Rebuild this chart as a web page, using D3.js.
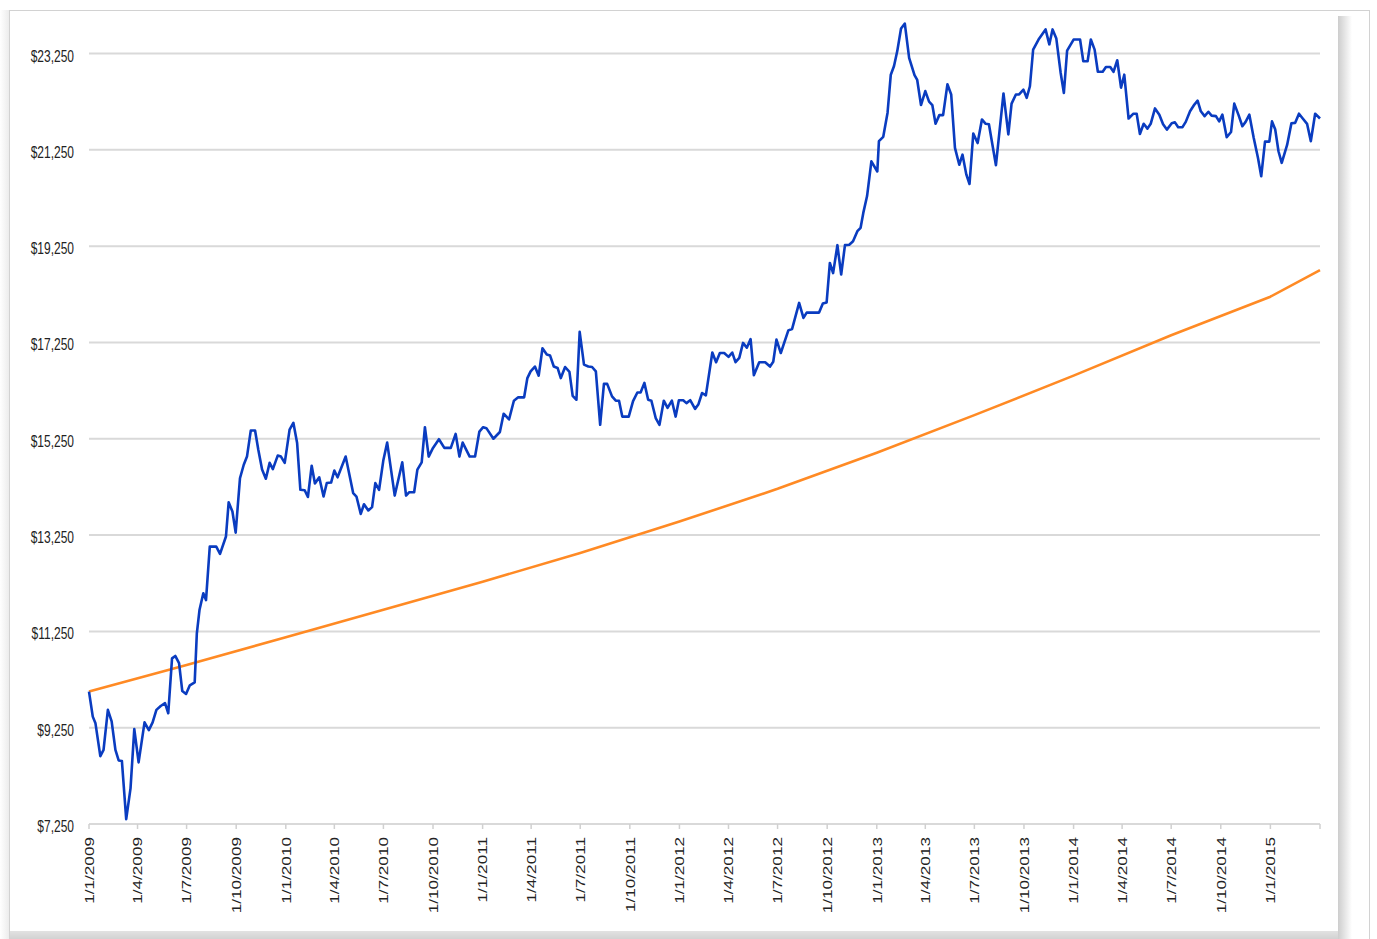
<!DOCTYPE html>
<html>
<head>
<meta charset="utf-8">
<script src="https://cdn.jsdelivr.net/npm/d3@7"></script>
<style>
body { margin: 0; background: #fff; }
text { font-family: "Liberation Sans", Arial, sans-serif; fill: #222; }
</style>
</head>
<body>
<svg id="chart" width="1377" height="939"></svg>
<script>
// portfolio value (blue)
var portfolioDates = [
  "2009-01-01","2009-01-08","2009-01-13","2009-01-22","2009-01-28","2009-02-05","2009-02-12","2009-02-19","2009-02-25","2009-03-03",
  "2009-03-11","2009-03-19","2009-03-26","2009-04-03","2009-04-14","2009-04-22","2009-04-29","2009-05-06","2009-05-14","2009-05-22",
  "2009-05-28","2009-06-04","2009-06-10","2009-06-17","2009-06-23","2009-06-30","2009-07-07","2009-07-16","2009-07-20","2009-07-25",
  "2009-08-01","2009-08-06","2009-08-13","2009-08-25","2009-09-01","2009-09-12","2009-09-17","2009-09-24","2009-09-30","2009-10-08",
  "2009-10-15","2009-10-21","2009-10-28","2009-11-05","2009-11-11","2009-11-18","2009-11-25","2009-12-02","2009-12-08","2009-12-17",
  "2009-12-23","2009-12-30","2010-01-08","2010-01-15","2010-01-22","2010-01-28","2010-02-05","2010-02-11","2010-02-18","2010-02-24",
  "2010-03-04","2010-03-12","2010-03-18","2010-03-26","2010-04-01","2010-04-07","2010-04-22","2010-05-06","2010-05-12","2010-05-20",
  "2010-05-26","2010-06-03","2010-06-10","2010-06-16","2010-06-23","2010-07-01","2010-07-08","2010-07-22","2010-08-05","2010-08-12",
  "2010-08-18","2010-08-27","2010-09-02","2010-09-10","2010-09-16","2010-09-23","2010-10-01","2010-10-12","2010-10-22","2010-11-03",
  "2010-11-12","2010-11-19","2010-11-25","2010-12-08","2010-12-18","2010-12-26","2011-01-02","2011-01-08","2011-01-21","2011-02-02",
  "2011-02-09","2011-02-19","2011-02-28","2011-03-08","2011-03-19","2011-03-25","2011-03-31","2011-04-08","2011-04-15","2011-04-22",
  "2011-04-30","2011-05-06","2011-05-13","2011-05-20","2011-05-26","2011-06-03","2011-06-11","2011-06-17","2011-06-24","2011-06-30",
  "2011-07-08","2011-07-16","2011-07-23","2011-07-30","2011-08-07","2011-08-14","2011-08-20","2011-08-29","2011-09-05","2011-09-11",
  "2011-09-17","2011-09-29","2011-10-07","2011-10-15","2011-10-21","2011-10-28","2011-11-04","2011-11-10","2011-11-18","2011-11-25",
  "2011-12-03","2011-12-10","2011-12-18","2011-12-25","2011-12-31","2012-01-08","2012-01-14","2012-01-21","2012-01-30","2012-02-05",
  "2012-02-12","2012-02-19","2012-03-02","2012-03-09","2012-03-16","2012-03-24","2012-04-01","2012-04-08","2012-04-14","2012-04-21",
  "2012-04-28","2012-05-05","2012-05-12","2012-05-18","2012-05-28","2012-06-08","2012-06-17","2012-06-23","2012-06-29","2012-07-07",
  "2012-07-21","2012-07-28","2012-08-10","2012-08-18","2012-08-24","2012-09-16","2012-09-23","2012-09-30","2012-10-06","2012-10-12",
  "2012-10-20","2012-10-27","2012-11-03","2012-11-11","2012-11-18","2012-11-26","2012-12-02","2012-12-07","2012-12-14","2012-12-22",
  "2013-01-02","2013-01-05","2013-01-13","2013-01-21","2013-01-27","2013-02-02","2013-02-08","2013-02-15","2013-02-22","2013-03-02",
  "2013-03-12","2013-03-17","2013-03-24","2013-04-01","2013-04-08","2013-04-14","2013-04-20","2013-04-27","2013-05-04","2013-05-12",
  "2013-05-19","2013-05-26","2013-06-03","2013-06-09","2013-06-16","2013-06-22","2013-06-29","2013-07-07","2013-07-15","2013-07-22",
  "2013-07-28","2013-08-10","2013-08-24","2013-09-02","2013-09-08","2013-09-16","2013-09-22","2013-09-30","2013-10-06","2013-10-12",
  "2013-10-18","2013-10-28","2013-11-10","2013-11-17","2013-11-23","2013-11-30","2013-12-08","2013-12-14","2013-12-20","2014-01-01",
  "2014-01-13","2014-01-19","2014-01-27","2014-02-02","2014-02-09","2014-02-15","2014-02-24","2014-03-02","2014-03-10","2014-03-16",
  "2014-03-23","2014-03-30","2014-04-05","2014-04-13","2014-04-22","2014-04-28","2014-05-04","2014-05-11","2014-05-18","2014-05-24",
  "2014-06-01","2014-06-09","2014-06-16","2014-06-23","2014-07-02","2014-07-08","2014-07-14","2014-07-22","2014-07-28","2014-08-05",
  "2014-08-13","2014-08-19","2014-08-25","2014-09-01","2014-09-08","2014-09-14","2014-09-22","2014-09-28","2014-10-04","2014-10-12",
  "2014-10-20","2014-10-26","2014-11-03","2014-11-10","2014-11-16","2014-11-23","2014-12-01","2014-12-09","2014-12-15","2014-12-22",
  "2014-12-30","2015-01-04","2015-01-10","2015-01-16","2015-01-22","2015-02-01","2015-02-09","2015-02-16","2015-02-23","2015-03-02",
  "2015-03-10","2015-03-17","2015-03-25","2015-04-03"
];
var portfolioValues = [
  10000,9480,9340,8660,8790,9620,9380,8790,8570,8560,
  7350,7990,9220,8530,9360,9200,9360,9620,9700,9760,
  9550,10690,10740,10590,10010,9950,10130,10190,11210,11700,
  12040,11900,13010,13010,12860,13220,13930,13740,13300,14430,
  14710,14880,15420,15420,15020,14610,14420,14750,14620,14900,
  14880,14750,15440,15580,15160,14190,14180,14040,14690,14320,
  14450,14050,14330,14340,14590,14450,14880,14120,14050,13690,
  13890,13760,13830,14330,14190,14810,15170,14070,14760,14070,
  14140,14140,14610,14760,15490,14880,15060,15240,15060,15060,
  15350,14880,15170,14880,14880,15400,15490,15470,15250,15390,
  15770,15650,16040,16110,16110,16510,16650,16750,16560,17130,
  17000,16980,16750,16720,16510,16740,16640,16140,16060,17470,
  16790,16750,16740,16650,15540,16390,16390,16130,16040,16040,
  15710,15710,16030,16210,16210,16410,16060,16040,15680,15540,
  16040,15890,16040,15710,16050,16050,15990,16050,15870,15960,
  16200,16150,17040,16840,17030,17030,16950,17040,16840,16930,
  17240,17140,17320,16570,16840,16840,16750,16850,17310,17030,
  17500,17530,18070,17760,17870,17870,18060,18080,18900,18690,
  19270,18660,19270,19280,19350,19560,19630,19940,20290,21010,
  20800,21430,21520,22020,22810,22990,23300,23770,23870,23160,
  22800,22700,22180,22470,22250,22180,21790,21970,21970,22610,
  22400,21290,20940,21150,20740,20540,21590,21390,21880,21790,
  21780,20930,22420,21570,22210,22400,22400,22500,22330,22570,
  23330,23540,23750,23440,23750,23560,22850,22430,23310,23540,
  23540,23090,23090,23540,23330,22870,22870,22970,22970,22870,
  23110,22540,22810,21900,22000,22000,21580,21790,21690,21790,
  22110,21980,21780,21670,21800,21820,21720,21720,21830,22050,
  22190,22270,22050,21950,22040,21960,21950,21840,21980,21510,
  21620,22210,21970,21740,21830,21980,21500,21080,20700,21420,
  21420,21840,21670,21220,20980,21350,21800,21810,22000,21900,
  21790,21430,22000,21900
];

// steady growth benchmark (orange)
var benchmarkDates = [
  "2009-01-01","2009-07-01","2010-01-01","2010-07-01","2011-01-01","2011-07-01","2012-01-01",
  "2012-07-01","2013-01-01","2013-07-01","2014-01-01","2014-07-01","2015-01-01","2015-04-03"
];
var benchmarkValues = [
  10000,10550,11130,11700,12280,12880,13530,
  14210,14960,15740,16560,17400,18200,18750
];

var yTickValues = [7250, 9250, 11250, 13250, 15250, 17250, 19250, 21250, 23250];
var xTickDates = [
  "2009-01-01","2009-04-01","2009-07-01","2009-10-01","2010-01-01","2010-04-01","2010-07-01","2010-10-01",
  "2011-01-01","2011-04-01","2011-07-01","2011-10-01","2012-01-01","2012-04-01","2012-07-01","2012-10-01",
  "2013-01-01","2013-04-01","2013-07-01","2013-10-01","2014-01-01","2014-04-01","2014-07-01","2014-10-01",
  "2015-01-01"
];

var parseDate = d3.timeParse("%Y-%m-%d");
var fmtDate = d3.timeFormat("%-d/%-m/%Y");
var fmtMoney = function(v) { return "$" + d3.format(",")(v); };

var portfolio = portfolioDates.map(function(d, i) {
    return {date: parseDate(d), value: portfolioValues[i]};
});
var benchmark = benchmarkDates.map(function(d, i) {
    return {date: parseDate(d), value: benchmarkValues[i]};
});

var svg = d3.select("#chart");
var defs = svg.append("defs");

var gRight = defs.append("linearGradient").attr("id", "shadowRight");
gRight.append("stop").attr("offset", "0%").attr("stop-color", "#cdcdcd");
gRight.append("stop").attr("offset", "100%").attr("stop-color", "#ffffff");

var gLeft = defs.append("linearGradient").attr("id", "shadowLeft");
gLeft.append("stop").attr("offset", "0%").attr("stop-color", "#ffffff");
gLeft.append("stop").attr("offset", "100%").attr("stop-color", "#ececec");

var gBottom = defs.append("linearGradient").attr("id", "shadowBottom")
    .attr("x1", 0).attr("y1", 0).attr("x2", 0).attr("y2", 1);
gBottom.append("stop").attr("offset", "0%").attr("stop-color", "#e2e2e2");
gBottom.append("stop").attr("offset", "100%").attr("stop-color", "#d2d2d2");

// frame and card
svg.append("rect").attr("x", 0).attr("y", 10).attr("width", 9).attr("height", 929)
    .attr("fill", "url(#shadowLeft)");
svg.append("rect").attr("x", 9.5).attr("y", 10.5).attr("width", 1360).attr("height", 940)
    .attr("fill", "#fff").attr("stroke", "#d2d2d2");
svg.append("rect").attr("x", 1338).attr("y", 16).attr("width", 14).attr("height", 923)
    .attr("fill", "url(#shadowRight)");
svg.append("rect").attr("x", 10).attr("y", 931).attr("width", 1328).attr("height", 8)
    .attr("fill", "url(#shadowBottom)");

var x = d3.scaleTime()
    .domain([parseDate("2009-01-01"), parseDate("2015-04-03")])
    .range([89, 1320]);

var y = d3.scaleLinear()
    .domain([7250, 23250])
    .range([824, 53.5]);

// gridlines
svg.append("g")
    .selectAll("line")
    .data(yTickValues)
    .enter()
    .append("line")
    .attr("x1", 89)
    .attr("x2", 1320)
    .attr("y1", function(d) { return y(d); })
    .attr("y2", function(d) { return y(d); })
    .attr("stroke", "#d9d9d9")
    .attr("stroke-width", 2);

// y labels (picture is stretched vertically)
svg.append("g")
    .selectAll("text")
    .data(yTickValues)
    .enter()
    .append("text")
    .attr("transform", function(d) { return "translate(74," + (y(d) + 8) + ") scale(1,1.32)"; })
    .attr("text-anchor", "end")
    .attr("font-size", 12)
    .text(fmtMoney);

// x ticks
var tickDates = xTickDates.map(parseDate);
svg.append("g")
    .selectAll("line")
    .data(tickDates.concat([x.domain()[1]]))
    .enter()
    .append("line")
    .attr("x1", function(d) { return x(d); })
    .attr("x2", function(d) { return x(d); })
    .attr("y1", 824)
    .attr("y2", 829)
    .attr("stroke", "#d0d0d0")
    .attr("stroke-width", 1.5);

svg.append("g")
    .selectAll("text")
    .data(tickDates)
    .enter()
    .append("text")
    .attr("transform", function(d) { return "translate(" + (x(d) + 4.8) + ",837) rotate(-90) scale(1.32,1)"; })
    .attr("text-anchor", "end")
    .attr("font-size", 13)
    .text(fmtDate);

var line = d3.line()
    .x(function(d) { return x(d.date); })
    .y(function(d) { return y(d.value); });

svg.append("path")
    .datum(benchmark)
    .attr("fill", "none")
    .attr("stroke", "#ff8a24")
    .attr("stroke-width", 2.6)
    .attr("stroke-linejoin", "round")
    .attr("d", line);

svg.append("path")
    .datum(portfolio)
    .attr("fill", "none")
    .attr("stroke", "#0a3cc0")
    .attr("stroke-width", 2.6)
    .attr("stroke-linejoin", "round")
    .attr("d", line);
</script>
</body>
</html>
